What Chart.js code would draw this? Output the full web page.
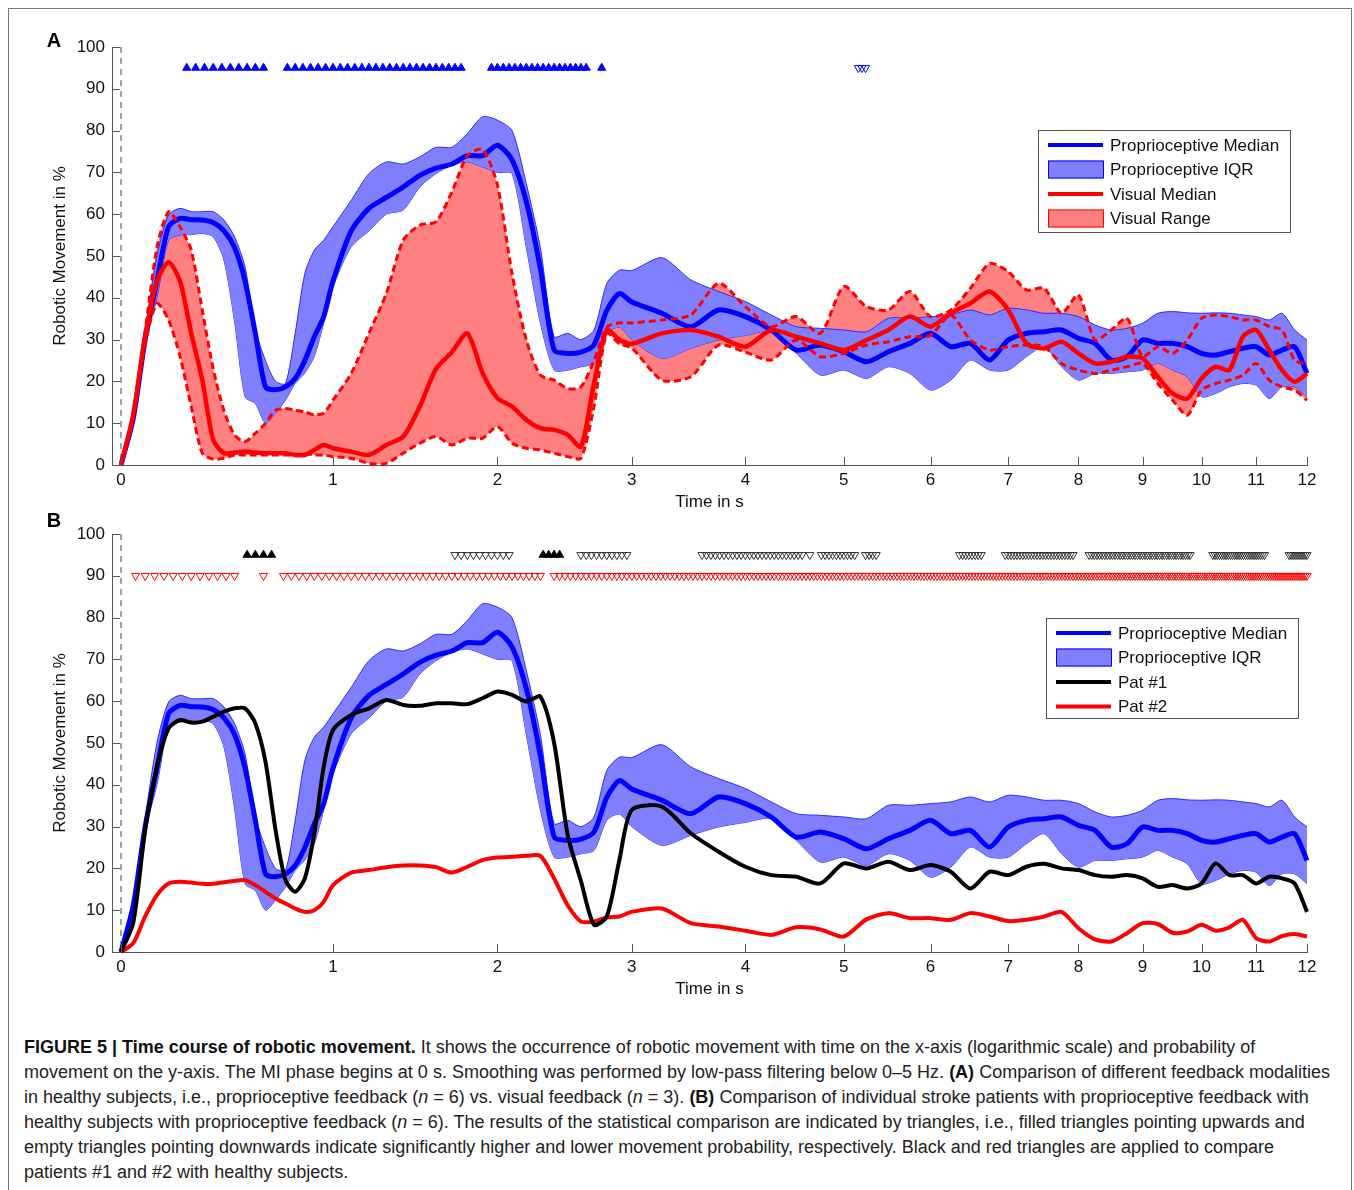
<!DOCTYPE html>
<html>
<head>
<meta charset="utf-8">
<script src="https://cdn.jsdelivr.net/npm/chart.js@4.4.1/dist/chart.umd.min.js"></script>
<style>
body { margin: 0; background: #fff; overflow: hidden; }
#frame { position: absolute; left: 8px; top: 8px; width: 1344px; height: 1200px; border: 1px solid #777; box-sizing: border-box; }
canvas { position: absolute; left: 0; }
#cap { position: absolute; left: 24px; top: 1035px; font: 18px "Liberation Sans", Arial, sans-serif; line-height: 25px; color: #222; white-space: nowrap; }
#cap b { color: #111; }
</style>
</head>
<body>
<div id="frame"></div>
<canvas id="chartA" width="1354" height="520" style="top:0px"></canvas>
<canvas id="chartB" width="1354" height="520" style="top:487px"></canvas>
<div id="cap">
<b>FIGURE 5 | Time course of robotic movement.</b> It shows the occurrence of robotic movement with time on the x-axis (logarithmic scale) and probability of<br>
movement on the y-axis. The MI phase begins at 0 s. Smoothing was performed by low-pass filtering below 0–5 Hz. <b>(A)</b> Comparison of different feedback modalities<br>
in healthy subjects, i.e., proprioceptive feedback (<i>n</i> = 6) vs. visual feedback (<i>n</i> = 3). <b>(B)</b> Comparison of individual stroke patients with proprioceptive feedback with<br>
healthy subjects with proprioceptive feedback (<i>n</i> = 6). The results of the statistical comparison are indicated by triangles, i.e., filled triangles pointing upwards and<br>
empty triangles pointing downwards indicate significantly higher and lower movement probability, respectively. Black and red triangles are applied to compare<br>
patients #1 and #2 with healthy subjects.
</div>
<script>
// time in s (x axis is log(t + 3))
var time = [0, 0.05, 0.1, 0.15, 0.2, 0.25, 0.3, 0.35, 0.4, 0.45, 0.5, 0.55, 0.6, 0.65, 0.7, 0.75, 0.8, 0.85, 0.9, 0.95, 1.0,
  1.1, 1.2, 1.3, 1.4, 1.5, 1.6, 1.7, 1.8, 1.9, 2.0, 2.1, 2.2, 2.3, 2.4, 2.5, 2.6, 2.7, 2.8, 2.9, 3.0,
  3.25, 3.5, 3.75, 4, 4.25, 4.5, 4.75, 5, 5.25, 5.5, 5.75, 6, 6.25, 6.5, 6.75, 7, 7.25, 7.5, 7.75, 8,
  8.25, 8.5, 8.75, 9, 9.25, 9.5, 9.75, 10, 10.25, 10.5, 10.75, 11, 11.25, 11.5, 11.75, 12];

var propMedian = [0, 11, 30, 44, 57, 59, 58.7, 58.6, 58, 56, 52, 44, 31.5, 18.7, 18, 18.7, 20.7, 25, 30.7, 35.5, 44,
  56, 61.4, 64, 66.5, 69.3, 71, 72, 74, 74, 76.5, 73, 63, 47, 27.5, 26.7, 27, 28.7, 37, 41, 39,
  36.3, 33.1, 37.1, 35.5, 32.3, 27.5, 28.7, 27.1, 24.7, 27.1, 29.1, 31.5, 28.3, 29.1, 25.1, 29.9, 31.5, 31.9, 32.3, 30.3,
  29.1, 25.1, 25.9, 29.9, 29.1, 29.1, 28.3, 26.7, 26.3, 27.1, 27.9, 28.3, 26.3, 27.5, 28.3, 21.9];
var propUpper = [0, 12, 32, 50, 59.8, 61.4, 60.6, 60.6, 60.6, 58.6, 54.6, 47.4, 32.3, 25, 20, 19.5, 31.5, 45.8, 51.4, 53.8, 57,
  63.3, 69.7, 72.5, 72, 73.7, 76, 76, 79.3, 83.3, 82.5, 80, 67.3, 52, 30.7, 31.5, 30, 32.3, 43.4, 46.6, 46.5,
  49.6, 44.3, 41.5, 39.1, 35.9, 33.1, 32.7, 32.3, 31.9, 35.1, 35.1, 35.5, 35.9, 37.1, 35.9, 37.5, 37.1, 36.3, 36.3, 35.5,
  33.5, 32.3, 32.7, 33.9, 36.3, 36.7, 36.4, 36.3, 36.4, 36.3, 35.9, 35.5, 34.7, 36.3, 32.3, 29.9];
var propLower = [0, 10, 29, 40, 53.8, 55, 55.1, 55.4, 54.6, 49, 34.3, 16.3, 14.7, 10, 12.4, 15.5, 19.5, 22, 26, 34, 42.6,
  52.2, 56, 60, 61, 66.5, 69.7, 71.7, 72.5, 71.3, 70, 69.7, 52, 34, 22.7, 22.7, 23.5, 24.3, 31.5, 33, 30,
  25.5, 27.9, 29.9, 31, 31.9, 26.7, 21.5, 22.7, 20.7, 23.5, 21.9, 17.9, 20.3, 25.1, 22.7, 22.7, 25.9, 28.3, 23.5, 20.3,
  21.9, 21.9, 22.3, 22.7, 24.3, 22.7, 21.1, 16.3, 17.1, 18.7, 19.5, 19.1, 15.9, 18.7, 18.7, 16.3];

var visMedian = [0, 12, 31, 44, 48.5, 44, 31.5, 20.3, 6, 2.8, 3, 3.2, 3, 2.8, 2.8, 2.8, 2.4, 2.4, 3.6, 4.8, 4,
  3.2, 2.4, 4.8, 6.8, 14, 23, 27, 31.5, 22, 16, 14, 10.8, 8.8, 8.4, 7.2, 4.4, 19.5, 32.3, 30, 29,
  31.5, 32.3, 30.7, 28.3, 32.3, 30.7, 29.1, 27.5, 29.9, 32.3, 35.5, 33.1, 36.3, 38.7, 41.5, 37.1, 29.1, 27.9, 29.5, 26.7,
  24.3, 24.7, 25.9, 25.5, 21.1, 17.1, 15.9, 20.7, 23.5, 22.7, 30.7, 32.3, 27.5, 22.7, 19.9, 21.9];
var visUpper = [0, 12, 32, 52, 60.6, 57, 51.4, 37, 23, 13, 7.2, 5.6, 7.6, 10, 13.1, 13.5, 13.1, 12.7, 12, 12.4, 15.5,
  21.9, 31.5, 41, 53.8, 57.4, 58.2, 65.3, 74, 75.5, 67, 45.8, 29.9, 21.5, 20.3, 18.3, 18.7, 25, 33, 34, 34,
  34.7, 35.9, 43.5, 37.9, 33.1, 35.5, 31.5, 42.7, 37.9, 37.1, 41.5, 35.5, 37.1, 42.3, 48.2, 46.3, 41.9, 42.3, 36.3, 40.7,
  29.9, 32.3, 35.1, 25.9, 28.3, 26.7, 29.9, 35.1, 35.9, 35.5, 34.7, 34.7, 33.1, 32.3, 25.1, 24];
var visLower = [0, 11, 29, 38.6, 34.7, 26, 14, 2.8, 1.4, 1.6, 2.4, 2.4, 2.4, 2.4, 2.4, 2.4, 2.4, 2.8, 2.4, 2.4, 2,
  1.6, 0.4, 0.4, 2.8, 5.2, 6.8, 4.8, 6.4, 6.4, 9.2, 5.2, 4, 3.6, 2.8, 2, 1.6, 14, 31.5, 29, 28,
  20.3, 21.1, 28.7, 27, 25.1, 29.9, 25.9, 26.7, 28.7, 29.5, 30.7, 31, 35.9, 29.9, 27.5, 28.3, 28.7, 28.3, 24.3, 22.7,
  21.9, 22.7, 23.5, 24.3, 19.5, 15.5, 11.9, 17.9, 19.5, 20.3, 21.5, 24.3, 20.3, 18.7, 17.9, 15.5];

var pat1 = [0, 6.9, 29.2, 44.3, 53.5, 55.5, 54.9, 55.1, 56.3, 57.5, 58.3, 58.3, 54.7, 45.5, 29.2, 17.2, 14.4, 17.6, 28.4, 44.3, 53.1,
  56.7, 58.3, 60.3, 59.1, 58.9, 59.5, 59.5, 59.3, 60.7, 62.3, 61.5, 59.9, 61.1, 50, 28, 17, 6.5, 8.5, 22, 34,
  34.8, 28.4, 24, 20.4, 18.4, 18, 16.4, 21.2, 20, 21.6, 19.6, 20.8, 19.2, 15.2, 19.2, 18.4, 20.4, 21.1, 20, 19.6,
  18.4, 18, 18.4, 17.6, 15.6, 16, 15.2, 16.4, 21.2, 18.4, 18.4, 16.4, 18, 17.6, 16.4, 9.6];
var pat2 = [0, 2.1, 8.5, 13.6, 16.4, 16.8, 16.6, 16.3, 16.3, 16.7, 17, 17.2, 16, 14.4, 12.8, 11.6, 10.4, 9.6, 10, 12, 16,
  19, 19.6, 20.3, 20.7, 20.7, 20.3, 19, 20.4, 22, 22.6, 22.8, 23, 23, 17.6, 11.2, 7.3, 7.3, 8.3, 8.5, 9.6,
  10.4, 6.9, 6.1, 5.1, 4.1, 5.9, 5.4, 3.7, 7.8, 9.3, 8.1, 8.1, 7.7, 9.3, 8.5, 7.4, 7.7, 8.5, 9.6, 5.7,
  3, 2.5, 4.5, 6.9, 6.7, 4.6, 4.9, 6.5, 5.1, 5.9, 7.7, 3.3, 2.5, 3.8, 4.3, 3.7];

// significance markers: time intervals (s), sampled every markStep
var markStep = 0.04;
var upA = [[0.28, 0.64], [0.76, 1.76], [1.96, 2.64], [2.76, 2.76]];
var downA = [[5.16, 5.24]];
var upBlack = [[0.56, 0.68], [2.32, 2.44]];
var downBlack = [[1.72, 2.08], [2.6, 2.96], [3.6, 4.56], [4.64, 4.64], [4.76, 5.12], [5.24, 5.36], [6.36, 6.64],
  [6.96, 7.92], [8.16, 9.8], [10.2, 11.16], [11.64, 12]];
var downRed = [[0.06, 0.5], [0.64, 0.64], [0.74, 2.3], [2.4, 12]];
var markLevelHigh = 95;
var markLevelLow = 90;

var xTickValues = [0, 1, 2, 3, 4, 5, 6, 7, 8, 9, 10, 11, 12];

function tx(t) { return Math.log(3 + t); }
function series(values) {
  return time.map(function (t, i) { return { x: tx(t), y: values[i] }; });
}
function marks(intervals, level) {
  var pts = [];
  intervals.forEach(function (iv) {
    for (var t = iv[0]; t <= iv[1] + 1e-9; t += markStep) pts.push({ x: tx(t), y: level });
  });
  return pts;
}

Chart.defaults.font.family = "'Liberation Sans', Arial, sans-serif";
Chart.defaults.font.size = 17;
Chart.defaults.color = '#111';

var BLUE = '#0000ff', BLUEFILL = '#8080ff', RED = '#ff0000', REDFILL = '#ff8080';

function lineDs(label, values, color, width, extra) {
  var ds = { label: label, data: series(values), borderColor: color, borderWidth: width,
    pointRadius: 0, tension: 0.25, fill: false, clip: false };
  for (var k in extra) ds[k] = extra[k];
  return ds;
}
function markDs(label, pts, color, filled, up) {
  return { label: label, data: pts, showLine: false, pointStyle: 'triangle', pointRadius: 4.7,
    pointRotation: up ? 0 : 180, pointBorderWidth: 1, pointBorderColor: color,
    pointBackgroundColor: filled ? color : 'rgba(0,0,0,0)', clip: false };
}

var axisPlugin = {
  id: 'axisExtras',
  beforeDatasetsDraw: function (chart) {
    var ctx = chart.ctx, a = chart.chartArea, px = chart.scales.x.getPixelForValue(tx(0));
    ctx.save();
    ctx.strokeStyle = '#666'; ctx.lineWidth = 1.2; ctx.setLineDash([6, 5]);
    ctx.beginPath(); ctx.moveTo(px, a.top); ctx.lineTo(px, a.bottom); ctx.stroke();
    ctx.restore();
  },
  afterDraw: function (chart) {
    var ctx = chart.ctx, a = chart.chartArea, xs = chart.scales.x, ys = chart.scales.y;
    ctx.save();
    ctx.strokeStyle = '#555'; ctx.lineWidth = 1;
    ctx.beginPath();
    xs.ticks.forEach(function (t) {
      var p = Math.round(xs.getPixelForValue(t.value)) + 0.5;
      ctx.moveTo(p, a.bottom); ctx.lineTo(p, a.bottom - 8);
    });
    ys.ticks.forEach(function (t) {
      var p = Math.round(ys.getPixelForValue(t.value)) + 0.5;
      ctx.moveTo(a.left, p); ctx.lineTo(a.left + 8, p);
    });
    ctx.stroke();
    // panel letter
    var o = chart.options.plugins.extras;
    ctx.fillStyle = '#000'; ctx.font = "bold 20px 'Liberation Sans', Arial, sans-serif";
    ctx.textAlign = 'center'; ctx.textBaseline = 'middle';
    ctx.fillText(o.letter, 54, o.letterY);
    // legend box
    var L = o.legend;
    ctx.fillStyle = '#fff'; ctx.fillRect(L.x, L.y, L.w, L.h);
    ctx.strokeStyle = '#555'; ctx.lineWidth = 1;
    ctx.strokeRect(L.x + 0.5, L.y + 0.5, L.w, L.h);
    ctx.font = "17px 'Liberation Sans', Arial, sans-serif";
    ctx.textAlign = 'left';
    L.items.forEach(function (it, i) {
      var y = L.y + 15 + i * 24.5, x0 = L.x + 10;
      if (it.box) {
        ctx.fillStyle = it.fill; ctx.fillRect(x0, y - 9, 55, 18);
        ctx.strokeStyle = it.color; ctx.lineWidth = 1; ctx.strokeRect(x0 + 0.5, y - 8.5, 55, 17);
      } else {
        ctx.strokeStyle = it.color; ctx.lineWidth = 4;
        ctx.beginPath(); ctx.moveTo(x0, y); ctx.lineTo(x0 + 55, y); ctx.stroke();
      }
      ctx.fillStyle = '#111';
      ctx.fillText(it.label, L.x + 72, y + 1);
    });
    ctx.restore();
  }
};

function makeChart(id, datasets, extras) {
  return new Chart(document.getElementById(id), {
    type: 'line',
    data: { datasets: datasets },
    options: {
      responsive: false,
      animation: false,
      events: [],
      layout: { padding: { left: 0, top: 47, right: 47, bottom: 0 } },
      plugins: { legend: { display: false }, tooltip: { enabled: false }, extras: extras },
      scales: {
        x: {
          type: 'linear',
          min: tx(0) - 0.0122,
          max: tx(12),
          afterBuildTicks: function (scale) {
            scale.ticks = xTickValues.map(function (v) { return { value: tx(v) }; });
          },
          afterFit: function (scale) { scale.height = 55; },
          ticks: {
            autoSkip: false, maxRotation: 0, padding: 5,
            callback: function (value, index) { return String(xTickValues[index]); }
          },
          grid: { display: true, drawOnChartArea: false, drawTicks: false },
          border: { display: true, color: '#555' },
          title: { display: true, text: 'Time in s', padding: { top: 0, bottom: 7 } }
        },
        y: {
          min: 0, max: 100,
          afterFit: function (scale) { scale.width = 112; },
          ticks: { stepSize: 10, padding: 7 },
          grid: { display: true, drawOnChartArea: false, drawTicks: false },
          border: { display: true, color: '#555' },
          title: { display: true, text: 'Robotic Movement in %', padding: { top: 50, bottom: 0 } }
        }
      }
    },
    plugins: [axisPlugin]
  });
}

makeChart('chartA', [
  markDs('up', marks(upA, markLevelHigh), BLUE, true, true),
  markDs('down', marks(downA, markLevelHigh), BLUE, false, false),
  lineDs('Visual Median', visMedian, RED, 4.5),
  lineDs('Visual Range upper', visUpper, RED, 3, { borderDash: [7, 4] }),
  lineDs('Visual Range lower', visLower, RED, 3, { borderDash: [7, 4] }),
  lineDs('Proprioceptive Median', propMedian, BLUE, 5),
  lineDs('Proprioceptive IQR', propUpper, '#2a2aff', 1, { fill: '+1', backgroundColor: BLUEFILL }),
  lineDs('IQR lower', propLower, '#2a2aff', 1),
  lineDs('Visual Range', visUpper, 'rgba(0,0,0,0)', 0, { fill: '+1', backgroundColor: REDFILL }),
  lineDs('Range lower', visLower, 'rgba(0,0,0,0)', 0)
], {
  letter: 'A', letterY: 41,
  legend: { x: 1038, y: 130, w: 252, h: 102, items: [
    { label: 'Proprioceptive Median', color: BLUE },
    { label: 'Proprioceptive IQR', box: true, color: BLUE, fill: BLUEFILL },
    { label: 'Visual Median', color: RED },
    { label: 'Visual Range', box: true, color: RED, fill: REDFILL }
  ] }
});

makeChart('chartB', [
  markDs('up black', marks(upBlack, markLevelHigh), '#000', true, true),
  markDs('down black', marks(downBlack, markLevelHigh), '#333', false, false),
  markDs('down red', marks(downRed, markLevelLow), RED, false, false),
  lineDs('Pat #1', pat1, '#000', 4),
  lineDs('Pat #2', pat2, RED, 4),
  lineDs('Proprioceptive Median', propMedian, BLUE, 5),
  lineDs('Proprioceptive IQR', propUpper, '#2a2aff', 1, { fill: '+1', backgroundColor: BLUEFILL }),
  lineDs('IQR lower', propLower, '#2a2aff', 1)
], {
  letter: 'B', letterY: 34,
  legend: { x: 1046, y: 131, w: 252, h: 100, items: [
    { label: 'Proprioceptive Median', color: BLUE },
    { label: 'Proprioceptive IQR', box: true, color: BLUE, fill: BLUEFILL },
    { label: 'Pat #1', color: '#000' },
    { label: 'Pat #2', color: RED }
  ] }
});
</script>
</body>
</html>
